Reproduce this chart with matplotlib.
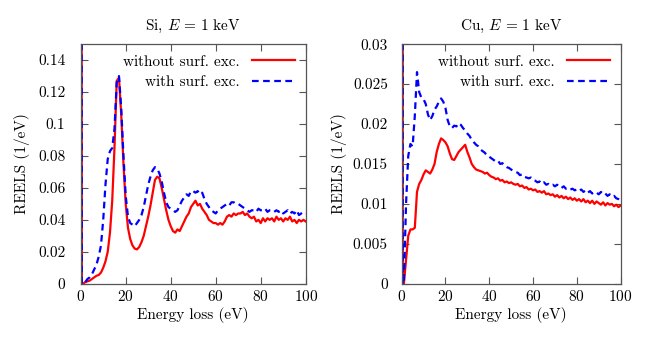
import numpy as np
import matplotlib
matplotlib.use('Agg')
import matplotlib.pyplot as plt

plt.rcParams['font.family'] = ['cmr10', 'DejaVu Serif']
plt.rcParams['mathtext.fontset'] = 'cm'
plt.rcParams['axes.formatter.use_mathtext'] = True
plt.rcParams['font.size'] = 11

# energy loss grid (eV), 1 eV steps from 1 to 100
energy = np.arange(1, 101)

# zero-loss (elastic) peak, goes far above the plotted range
zlp_energy = [0.0, 0.0, 0.5]
zlp_height = [0.0, 1.0, 0.0]

si_without = [
    0.000, 0.001, 0.0015, 0.002, 0.003, 0.004, 0.005, 0.0055, 0.007, 0.010,
    0.014, 0.020, 0.032, 0.052, 0.085, 0.127, 0.129, 0.106, 0.075, 0.050,
    0.035, 0.028, 0.024, 0.022, 0.0215, 0.023, 0.026, 0.030, 0.036, 0.042,
    0.049, 0.057, 0.065, 0.067, 0.066, 0.060, 0.053, 0.046, 0.040, 0.036,
    0.033, 0.032, 0.034, 0.033, 0.036, 0.039, 0.042, 0.044, 0.048, 0.050,
    0.052, 0.049, 0.050, 0.047, 0.045, 0.043, 0.040, 0.039, 0.038, 0.038,
    0.037, 0.038, 0.037, 0.039, 0.042, 0.043, 0.042, 0.044, 0.043, 0.044,
    0.044, 0.045, 0.043, 0.044, 0.042, 0.041, 0.042, 0.039, 0.040, 0.038,
    0.041, 0.039, 0.041, 0.040, 0.041, 0.039, 0.042, 0.040, 0.041, 0.039,
    0.041, 0.040, 0.042, 0.039, 0.040, 0.038, 0.040, 0.039, 0.040, 0.039,
]
si_with = [
    0.000, 0.001, 0.003, 0.004, 0.006, 0.009, 0.012, 0.017, 0.024, 0.040,
    0.062, 0.078, 0.083, 0.085, 0.097, 0.126, 0.130, 0.110, 0.080, 0.055,
    0.042, 0.038, 0.037, 0.036, 0.038, 0.040, 0.043, 0.048, 0.055, 0.062,
    0.067, 0.071, 0.073, 0.072, 0.069, 0.064, 0.057, 0.051, 0.048, 0.047,
    0.046, 0.045, 0.046, 0.049, 0.052, 0.054, 0.056, 0.055, 0.058, 0.058,
    0.057, 0.058, 0.056, 0.057, 0.053, 0.050, 0.048, 0.046, 0.045, 0.044,
    0.046, 0.047, 0.048, 0.049, 0.050, 0.049, 0.051, 0.051, 0.050, 0.050,
    0.049, 0.048, 0.047, 0.046, 0.045, 0.046, 0.046, 0.045, 0.047, 0.046,
    0.046, 0.047, 0.045, 0.046, 0.046, 0.045, 0.046, 0.045, 0.046, 0.044,
    0.045, 0.046, 0.044, 0.045, 0.044, 0.046, 0.043, 0.044, 0.045, 0.044,
]
cu_without = [
    0.000, 0.003, 0.006, 0.0068, 0.0068, 0.007, 0.0115, 0.0125, 0.013, 0.0137,
    0.0142, 0.0140, 0.0138, 0.0143, 0.0150, 0.0165, 0.0175, 0.0182, 0.0180, 0.0177,
    0.0172, 0.0163, 0.0156, 0.0155, 0.0160, 0.0165, 0.0168, 0.0171, 0.0174, 0.0165,
    0.0158, 0.0150, 0.0146, 0.0143, 0.0142, 0.0141, 0.0140, 0.0138, 0.0139, 0.0136,
    0.0134, 0.0133, 0.0131, 0.0132, 0.0129, 0.0130, 0.0127, 0.0128, 0.0126, 0.0127,
    0.0125, 0.0124, 0.0125, 0.0122, 0.0123, 0.0120, 0.0121, 0.0118, 0.0119, 0.0117,
    0.0118, 0.0115, 0.0116, 0.0114, 0.0116, 0.0112, 0.0113, 0.0111, 0.0112, 0.0109,
    0.0111, 0.0108, 0.0110, 0.0107, 0.0109, 0.0106, 0.0108, 0.0105, 0.0107, 0.0104,
    0.0106, 0.0103, 0.0106, 0.0102, 0.0104, 0.0101, 0.0104, 0.0100, 0.0103, 0.0101,
    0.0099, 0.0102, 0.0098, 0.0101, 0.0099, 0.0100, 0.0097, 0.0099, 0.0096, 0.0098,
]
cu_with = [
    0.000, 0.010, 0.016, 0.0175, 0.0172, 0.021, 0.0265, 0.0240, 0.0233, 0.0231,
    0.0225, 0.0212, 0.0205, 0.0210, 0.0218, 0.0222, 0.0228, 0.0232, 0.0228, 0.0220,
    0.0205, 0.0197, 0.0195, 0.0198, 0.0197, 0.0201, 0.0199, 0.0195, 0.0192, 0.0188,
    0.0185, 0.0180, 0.0177, 0.0174, 0.0172, 0.0168, 0.0166, 0.0164, 0.0160, 0.0159,
    0.0157, 0.0155, 0.0153, 0.0154, 0.0150, 0.0151, 0.0148, 0.0146, 0.0145, 0.0143,
    0.0141, 0.0140, 0.0139, 0.0136, 0.0137, 0.0134, 0.0133, 0.0132, 0.0133, 0.0130,
    0.0129, 0.0127, 0.0128, 0.0125, 0.0127, 0.0124, 0.0125, 0.0123, 0.0124, 0.0122,
    0.0124, 0.0121, 0.0120, 0.0122, 0.0119, 0.0120, 0.0118, 0.0119, 0.0117, 0.0118,
    0.0116, 0.0118, 0.0115, 0.0117, 0.0114, 0.0116, 0.0113, 0.0115, 0.0114, 0.0112,
    0.0115, 0.0112, 0.0113, 0.0110, 0.0112, 0.0109, 0.0110, 0.0107, 0.0106, 0.0104,
]

x_ticks = [0, 20, 40, 60, 80, 100]
si_yticks = [0, 0.02, 0.04, 0.06, 0.08, 0.1, 0.12, 0.14]
si_ylabels = ['0', '0.02', '0.04', '0.06', '0.08', '0.1', '0.12', '0.14']
cu_yticks = [0, 0.005, 0.01, 0.015, 0.02, 0.025, 0.03]
cu_ylabels = ['0', '0.005', '0.01', '0.015', '0.02', '0.025', '0.03']

# name, series, y max, ticks, labels, axes left/width, ylabel x, ytick pad
panels = [
    ('Si', si_without, si_with, 0.15, si_yticks, si_ylabels, 0.124, 0.3456, -0.225, 11),
    ('Cu', cu_without, cu_with, 0.03, cu_yticks, cu_ylabels, 0.617, 0.3364, -0.25, 10),
]

fig = plt.figure(figsize=(6.51, 3.37), dpi=100)

for name, without, with_, ymax, yt, yl, left, width, ylab_x, ypad in panels:
    ax = fig.add_axes([left, 0.158, width, 0.711])
    x = np.concatenate([zlp_energy, energy])
    ax.plot(x, np.concatenate([zlp_height, without]), color='#ff0000',
            lw=1.6, label='without surf. exc.')
    ax.plot(x, np.concatenate([zlp_height, with_]), color='#0000ff',
            lw=1.6, ls=(0, (3, 2)), label='with surf. exc.')
    ax.set_xlim(0, 100)
    ax.set_ylim(0, ymax)
    ax.set_xticks(x_ticks)
    ax.set_yticks(yt)
    ax.set_yticklabels(yl)
    ax.tick_params(direction='in', top=True, right=True, length=5,
                   width=0.8, color='#555555', labelsize=11)
    ax.tick_params(axis='y', pad=ypad)
    ax.tick_params(axis='x', pad=4)
    for s in ax.spines.values():
        s.set_color('#555555')
        s.set_linewidth(0.9)
    ax.set_xlabel('Energy loss (eV)', labelpad=2)
    ax.set_ylabel('REELS (1/eV)')
    ax.yaxis.set_label_coords(ylab_x, 0.5)
    ax.set_title(name + r', $E \,=\, 1$ keV', fontsize=11, pad=10)
    ax.legend(loc='upper right', frameon=False, markerfirst=False,
              handlelength=2.8, handletextpad=0.85, labelspacing=0.45,
              borderaxespad=0.3, fontsize=11)

fig.savefig('out.png', dpi=100)
